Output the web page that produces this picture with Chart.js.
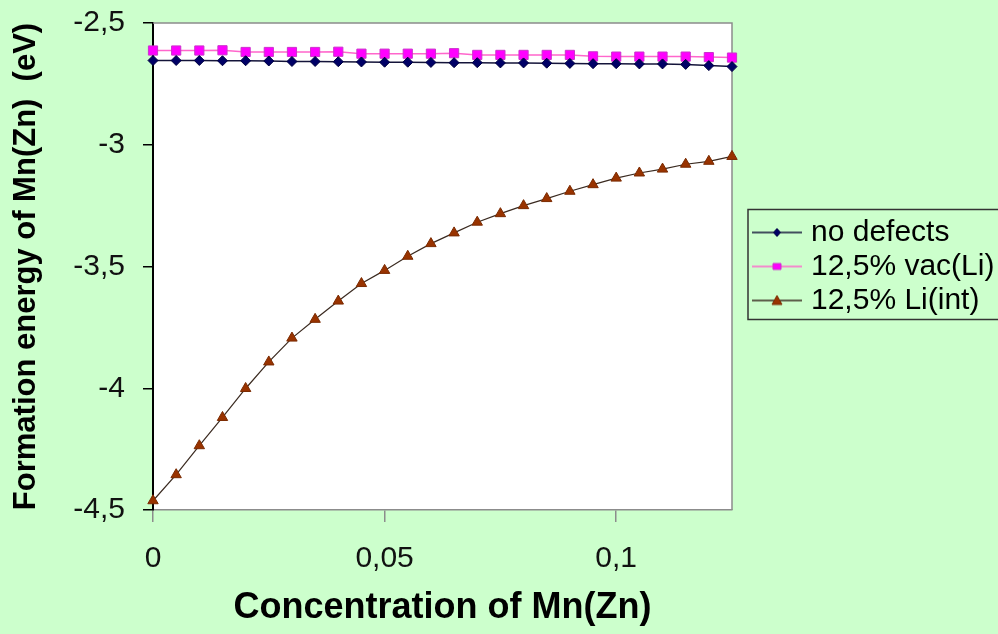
<!DOCTYPE html>
<html>
<head>
<meta charset="utf-8">
<title>Formation energy of Mn(Zn)</title>
<script src="https://cdn.jsdelivr.net/npm/chart.js@4.4.1/dist/chart.umd.min.js"></script>
<style>
  html, body { margin: 0; padding: 0; background: #ccffcc; }
  #wrap { width: 998px; height: 634px; }
</style>
</head>
<body>
<div id="wrap"><canvas id="energyChart" width="998" height="634"></canvas></div>
<script>
// concentration of Mn(Zn), x axis
const concentration = [0, 0.005, 0.01, 0.015, 0.02, 0.025, 0.03, 0.035, 0.04, 0.045, 0.05, 0.055, 0.06,
  0.065, 0.07, 0.075, 0.08, 0.085, 0.09, 0.095, 0.1, 0.105, 0.11, 0.115, 0.12, 0.125];

// formation energy (eV) for each series
const noDefects = [-2.654, -2.654, -2.654, -2.655, -2.655, -2.656, -2.658, -2.658, -2.659, -2.660, -2.661, -2.661, -2.662,
  -2.663, -2.663, -2.664, -2.664, -2.665, -2.666, -2.667, -2.667, -2.668, -2.668, -2.670, -2.675, -2.679];
const vacLi = [-2.613, -2.613, -2.613, -2.612, -2.619, -2.619, -2.619, -2.619, -2.618, -2.626, -2.626, -2.626, -2.626,
  -2.624, -2.631, -2.631, -2.631, -2.631, -2.631, -2.637, -2.638, -2.638, -2.638, -2.638, -2.640, -2.642];
const liInt = [-4.462, -4.355, -4.236, -4.120, -4.001, -3.892, -3.794, -3.717, -3.642, -3.570, -3.516, -3.458, -3.406,
  -3.362, -3.318, -3.283, -3.250, -3.221, -3.191, -3.164, -3.137, -3.116, -3.100, -3.080, -3.068, -3.048];

const seriesNames = ['no defects', '12,5% vac(Li)', '12,5% Li(int)'];
const xTicks = [0, 0.05, 0.1];
const yTicks = [-2.5, -3, -3.5, -4, -4.5];

const FONT = 'Liberation Sans, Arial, sans-serif';
Chart.defaults.font.family = FONT;
Chart.defaults.color = '#111';

function toPoints(ys) {
  return concentration.map((x, i) => ({x: x, y: ys[i]}));
}

function comma(v) {
  return String(v).replace('.', ',');
}

// small line + marker picture for the legend
function legendIcon(lineColor, shape, fill, stroke) {
  const c = document.createElement('canvas');
  c.width = 76;
  c.height = 16;
  const ctx = c.getContext('2d');
  const cx = 49, cy = 8;
  ctx.strokeStyle = lineColor;
  ctx.lineWidth = 1.5;
  ctx.beginPath();
  ctx.moveTo(24, cy);
  ctx.lineTo(74, cy);
  ctx.stroke();
  ctx.fillStyle = fill;
  ctx.strokeStyle = stroke;
  ctx.lineWidth = 1;
  ctx.beginPath();
  if (shape === 'rectRot') {
    ctx.moveTo(cx, cy - 4); ctx.lineTo(cx + 3.5, cy); ctx.lineTo(cx, cy + 4); ctx.lineTo(cx - 3.5, cy);
  } else if (shape === 'rect') {
    ctx.rect(cx - 4, cy - 3, 8, 6);
  } else {
    ctx.moveTo(cx, cy - 5); ctx.lineTo(cx + 5, cy + 4); ctx.lineTo(cx - 5, cy + 4);
  }
  ctx.closePath();
  ctx.fill();
  ctx.stroke();
  return c;
}

const styles = [
  {line: '#14143a', shape: 'rectRot', fill: '#000066', stroke: '#000040', radius: 5},
  {line: '#ff66cc', shape: 'rect', fill: '#ff00ff', stroke: '#cc33cc', radius: 6.5},
  {line: '#3a2a20', shape: 'triangle', fill: '#993300', stroke: '#7a2a00', radius: 6}
];
const legendIcons = styles.map(s => legendIcon(s.line, s.shape, s.fill, s.stroke));

// white plot area, grey frame and legend box
const frame = {
  id: 'frame',
  beforeDraw(chart) {
    const {ctx, chartArea: a} = chart;
    ctx.save();
    ctx.fillStyle = '#ffffff';
    ctx.fillRect(a.left, a.top, a.right - a.left, a.bottom - a.top);
    ctx.restore();
  },
  beforeDatasetsDraw(chart) {
    const {ctx, chartArea: a} = chart;
    ctx.save();
    ctx.strokeStyle = '#8c8c8c';
    ctx.lineWidth = 1.5;
    ctx.beginPath();
    ctx.moveTo(a.left, a.top);
    ctx.lineTo(a.right, a.top);
    ctx.lineTo(a.right, a.bottom);
    ctx.stroke();
    ctx.restore();
  },
  afterDraw(chart) {
    const lg = chart.legend;
    if (!lg || !lg.legendHitBoxes.length) return;
    const boxes = lg.legendHitBoxes;
    const last = boxes[boxes.length - 1];
    const top = boxes[0].top - 8;
    const bottom = last.top + last.height + 4;
    const ctx = chart.ctx;
    ctx.save();
    ctx.strokeStyle = '#333';
    ctx.lineWidth = 1.5;
    ctx.strokeRect(chart.chartArea.right + 16, top, chart.width, bottom - top);
    ctx.restore();
  }
};

const ctx = document.getElementById('energyChart');
new Chart(ctx, {
  type: 'line',
  data: {
    datasets: [noDefects, vacLi, liInt].map((ys, i) => ({
      label: seriesNames[i],
      data: toPoints(ys),
      borderColor: styles[i].line,
      borderWidth: i === 2 ? 1.2 : 1.5,
      pointStyle: styles[i].shape,
      pointRadius: styles[i].radius,
      pointBackgroundColor: styles[i].fill,
      pointBorderColor: styles[i].stroke,
      pointBorderWidth: 1,
      tension: 0,
      fill: false
    }))
  },
  options: {
    responsive: false,
    animation: false,
    clip: false,
    layout: {padding: {left: 4, top: 23, right: 0, bottom: 0}},
    plugins: {
      tooltip: {enabled: false},
      legend: {
        position: 'right',
        fullSize: false,
        align: 'center',
        maxWidth: 266,
        labels: {
          usePointStyle: true,
          pointStyleWidth: 60,
          padding: 4,
          color: '#000',
          font: {size: 30},
          generateLabels: (chart) => chart.data.datasets.map((ds, i) => ({
            text: ds.label,
            pointStyle: legendIcons[i],
            datasetIndex: i,
            hidden: false,
            lineWidth: 0,
            fontColor: '#000'
          }))
        }
      }
    },
    scales: {
      x: {
        type: 'linear',
        min: 0,
        max: 0.125,
        afterBuildTicks: (axis) => { axis.ticks = xTicks.map(v => ({value: v})); },
        afterFit: (scale) => { scale.height = 124; },
        border: {color: '#8c8c8c', width: 1.5},
        grid: {drawOnChartArea: false, tickLength: 12, color: '#8c8c8c', lineWidth: 1.5},
        ticks: {padding: 19, font: {size: 30}, color: '#111', callback: (v) => comma(v), maxRotation: 0},
        title: {display: true, text: 'Concentration of Mn(Zn)', color: '#000',
          font: {size: 36, weight: 'bold'}, padding: {top: 0, bottom: 4}}
      },
      y: {
        min: -4.5,
        max: -2.5,
        afterBuildTicks: (axis) => { axis.ticks = yTicks.map(v => ({value: v})); },
        afterFit: (scale) => {
          scale.width = 149;
          scale.paddingTop = 0;
          scale.paddingBottom = 0;
        },
        border: {color: '#000', width: 2},
        grid: {drawOnChartArea: false, tickLength: 10, color: '#000', lineWidth: 1.5},
        ticks: {padding: 18, font: {size: 30}, color: '#111', callback: (v) => comma(v)},
        title: {display: true, text: 'Formation energy of Mn(Zn)  (eV)', color: '#000',
          font: {size: 31, weight: 'bold'}, padding: {top: 4, bottom: 0}}
      }
    }
  },
  plugins: [frame]
});
</script>
</body>
</html>
